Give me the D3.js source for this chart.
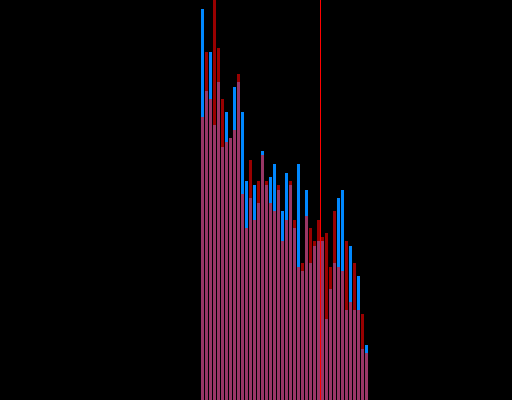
<!DOCTYPE html>
<html>
<head>
<meta charset="utf-8">
<script src="https://cdn.jsdelivr.net/npm/d3@7"></script>
<style>
  html, body { margin: 0; padding: 0; background: #000; }
  svg { display: block; }
</style>
</head>
<body>
<div id="chart"></div>
<script>
var width = 512,
    height = 400;

// bin index 0..41
var bins = d3.range(42);

// bar heights (same units as the y domain)
var blueValues = [391, 309, 348, 275, 318, 253, 288, 262, 313, 318,
                  288, 219, 202, 215, 197, 249, 215, 223, 236, 210,
                  189, 227, 215, 172, 236, 129, 210, 137, 154, 159,
                  159, 81, 111, 137, 202, 210, 90, 154, 90, 124,
                  51, 55];
var redValues  = [283, 348, 301, 400, 352, 301, 258, 262, 270, 326,
                  206, 172, 240, 180, 219, 245, 219, 197, 189, 215,
                  159, 180, 219, 180, 133, 137, 184, 172, 159, 180,
                  163, 167, 133, 189, 133, 129, 159, 98, 137, 90,
                  86, 47];

// marker line position, in bin units
var markerValue = 29.875;

var xScale = d3.scaleLinear()
    .domain([0, bins.length])
    .range([201, 369]);
var yScale = d3.scaleLinear()
    .domain([0, 400])
    .range([height, 0]);

var svg = d3.select("#chart").append("svg")
    .attr("width", width)
    .attr("height", height)
    .style("background", "#000")
    .style("shape-rendering", "crispEdges");

function bars(cls, values, color, opacity) {
  svg.append("g")
      .attr("class", cls)
    .selectAll("rect")
      .data(bins)
    .enter().append("rect")
      .attr("x", function(i) { return xScale(i); })
      .attr("width", function(i) { return xScale(i + 1) - xScale(i) - 1; })
      .attr("y", function(i) { return yScale(values[i]); })
      .attr("height", function(i) { return yScale(0) - yScale(values[i]); })
      .attr("fill", color)
      .attr("fill-opacity", opacity);
}

bars("blue", blueValues, "#0088ff", 1);
bars("red", redValues, "#ff0000", 0.6);

svg.append("line")
    .attr("x1", xScale(markerValue))
    .attr("x2", xScale(markerValue))
    .attr("y1", 0)
    .attr("y2", height)
    .attr("stroke", "#ff0000")
    .attr("stroke-width", 1);
</script>
</body>
</html>
